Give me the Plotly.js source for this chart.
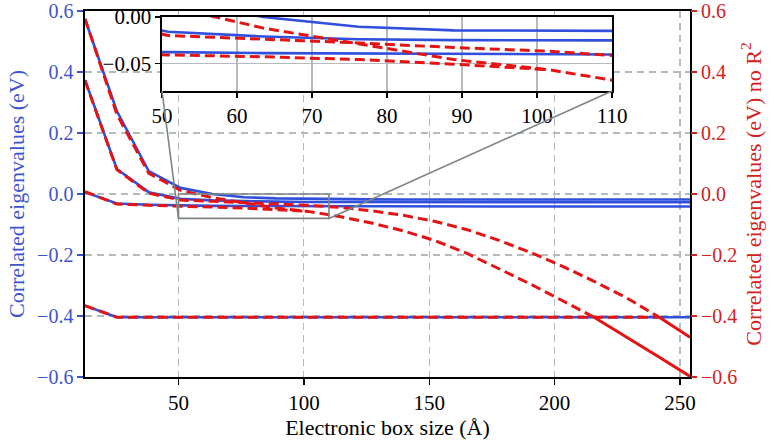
<!DOCTYPE html>
<html><head><meta charset="utf-8">
<script src="https://cdn.plot.ly/plotly-3.0.1.min.js"></script>
<style>html,body{margin:0;padding:0;background:#fff}#chart{width:776px;height:441px}</style>
</head><body><div id="chart"></div>
<script>
// Electronic box size (Å)
const boxSize = [12.7, 25.4, 38.1, 50.8, 63.5, 76.2, 88.9, 101.6, 114.3, 127.0, 139.7, 152.4, 165.1, 177.8, 190.5, 203.2, 215.9, 228.6, 241.3, 254.0];

// Correlated eigenvalues (eV) – blue, left axis
const corr1 = [0.574, 0.272, 0.075, 0.020, 0.000, -0.0105, -0.0145, -0.016, -0.017, -0.0175, -0.018, -0.018, -0.018, -0.018, -0.018, -0.018, -0.018, -0.018, -0.018, -0.018];
const corr2 = [0.374, 0.082, 0.006, -0.016, -0.021, -0.024, -0.025, -0.026, -0.026, -0.027, -0.027, -0.027, -0.027, -0.027, -0.027, -0.027, -0.027, -0.027, -0.027, -0.027];
const corr3 = [0.006, -0.031, -0.035, -0.038, -0.039, -0.0395, -0.040, -0.040, -0.0405, -0.041, -0.041, -0.041, -0.041, -0.041, -0.041, -0.041, -0.041, -0.041, -0.041, -0.041];
const corr4 = [-0.366, -0.404, -0.404, -0.404, -0.404, -0.404, -0.404, -0.404, -0.404, -0.404, -0.404, -0.404, -0.404, -0.404, -0.404, -0.404, -0.404, -0.404, -0.404, -0.404];

// Correlated eigenvalues (eV) no R² – red, right axis (dashed parts)
const noR2A = [0.575, 0.262, 0.068, 0.012, -0.012, -0.029, -0.046, -0.057, -0.074, -0.095, -0.121, -0.153, -0.195, -0.245, -0.296, -0.350, -0.405];
const noR2B = [0.372, 0.080, 0.003, -0.020, -0.024, -0.028, -0.033, -0.037, -0.044, -0.055, -0.070, -0.090, -0.117, -0.152, -0.192, -0.237, -0.287, -0.340, -0.402];
const noR2C = [0.008, -0.033, -0.037, -0.041, -0.043, -0.046, -0.051, -0.057];
const noR2D = [-0.366, -0.404, -0.404, -0.404, -0.404, -0.404, -0.404, -0.404, -0.404, -0.404, -0.404, -0.404, -0.404, -0.404, -0.404, -0.404, -0.404, -0.404, -0.404];
// overlapping (solid-looking) tails
const tailAx = [215.9, 228.6, 241.3, 254.0];
const tailA = [-0.405, -0.468, -0.533, -0.598];
const tailBx = [241.3, 254.0];
const tailB = [-0.402, -0.470];

const mainTicksY = [-0.6, -0.4, -0.2, 0.0, 0.2, 0.4, 0.6];
const mainTicksX = [50, 100, 150, 200, 250];
const insetTicksX = [50, 60, 70, 80, 90, 100, 110];
const insetTicksY = [-0.05, 0.00];
const zoomX = [50, 110];
const zoomY = [-0.08, 0.0];

const BLUE = '#2f4fdc', BLUE_T = '#3d54cc', RED = '#e41414', RED_T = '#d62020';
const FONT = '"Liberation Serif", "DejaVu Serif", serif';
const GRID = '#b3bbbf';
const TS = 20;

const traces = [];
function addBlue(y, xa, ya) {
  traces.push({x: boxSize.slice(0, y.length), y: y, xaxis: xa, yaxis: ya, mode: 'lines',
    line: {color: BLUE, width: 2.6}, hoverinfo: 'skip', showlegend: false});
}
function addRed(xv, y, xa, ya, dash) {
  traces.push({x: xv, y: y, xaxis: xa, yaxis: ya, mode: 'lines',
    line: {color: RED, width: 3, dash: dash}, hoverinfo: 'skip', showlegend: false});
}
function addAll(xa, yaBlue, yaRed) {
  [corr1, corr2, corr3, corr4].forEach(s => addBlue(s, xa, yaBlue));
  [noR2A, noR2B, noR2C, noR2D].forEach(s => addRed(boxSize.slice(0, s.length), s, xa, yaRed, '10px,5px'));
  addRed(tailAx, tailA, xa, yaRed, 'solid');
  addRed(tailBx, tailB, xa, yaRed, 'solid');
}
addAll('x', 'y', 'y2');
addAll('x3', 'y3', 'y3');

const L = 85, R = 86, T = 11, B = 64, W = 776, H = 441;
const xDom = [0, 1], yDom = [0, 1];
const xRange = [12.7, 254.0], yRange = [-0.6, 0.6];
const insetXDom = [0.1273, 0.8711], insetYDom = [0.7814, 0.9836];

function px(v) { return xDom[0] + (v - xRange[0]) / (xRange[1] - xRange[0]) * (xDom[1] - xDom[0]); }
function py(v) { return yDom[0] + (v - yRange[0]) / (yRange[1] - yRange[0]) * (yDom[1] - yDom[0]); }

const gray = '#7f8585';
const shapes = [
  {type: 'rect', xref: 'x3 domain', yref: 'y3 domain', x0: 0, x1: 1, y0: 0, y1: 1,
   fillcolor: '#ffffff', line: {width: 0}, layer: 'below'},
  {type: 'rect', xref: 'x', yref: 'y', x0: zoomX[0], x1: zoomX[1], y0: zoomY[0], y1: zoomY[1],
   line: {color: gray, width: 1.6}, layer: 'above'},
  {type: 'line', xref: 'paper', yref: 'paper', x0: px(zoomX[0]), y0: py(zoomY[0]), x1: insetXDom[0], y1: insetYDom[0],
   line: {color: gray, width: 1.6}, layer: 'above'},
  {type: 'line', xref: 'paper', yref: 'paper', x0: px(zoomX[1]), y0: py(zoomY[0]), x1: insetXDom[1], y1: insetYDom[0],
   line: {color: gray, width: 1.6}, layer: 'above'}
];

const layout = {
  width: W, height: H,
  margin: {l: L, r: R, t: T, b: B},
  paper_bgcolor: '#fff', plot_bgcolor: '#fff',
  font: {family: FONT, size: 21, color: '#000'},
  showlegend: false,
  xaxis: {domain: xDom, range: xRange, tickvals: mainTicksX, ticks: 'outside', ticklen: 6, tickwidth: 1.3,
    tickcolor: '#000', showline: true, linecolor: '#000', linewidth: 1.6, mirror: true,
    showgrid: true, gridcolor: GRID, gridwidth: 1.2, griddash: '7px,5px', zeroline: false,
    ticklabeloverflow: 'allow',
    tickfont: {family: FONT, size: TS + 1, color: '#000'},
    title: {text: 'Electronic box size (Å)', font: {family: FONT, size: 22, color: '#000'}, standoff: 3}},
  yaxis: {domain: yDom, range: yRange, tickvals: mainTicksY, tickformat: '.1f', ticks: 'outside', ticklen: 6,
    tickwidth: 1.3, tickcolor: BLUE_T, showline: true, linecolor: '#000', linewidth: 1.6, mirror: true,
    showgrid: true, gridcolor: GRID, gridwidth: 1.2, griddash: '7px,5px', zeroline: false,
    ticklabeloverflow: 'allow',
    tickfont: {family: FONT, size: TS, color: BLUE_T},
    title: {text: 'Correlated eigenvalues (eV)', font: {family: FONT, size: 22, color: BLUE_T}, standoff: 6}},
  yaxis2: {overlaying: 'y', side: 'right', range: yRange, tickvals: mainTicksY, tickformat: '.1f', ticks: 'outside',
    ticklen: 6, tickwidth: 1.3, tickcolor: RED_T, showline: false, showgrid: false, zeroline: false,
    ticklabeloverflow: 'allow',
    tickfont: {family: FONT, size: TS, color: RED_T},
    title: {text: 'Correlated eigenvalues (eV) no R<sup>2</sup>', font: {family: FONT, size: 22, color: RED_T}, standoff: 8}},
  xaxis3: {domain: insetXDom, anchor: 'y3', range: [50, 110], tickvals: insetTicksX, ticks: 'outside', ticklen: 5,
    tickwidth: 1.3, tickcolor: '#000', showline: true, linecolor: '#000', linewidth: 1.6, mirror: true,
    showgrid: true, gridcolor: GRID, gridwidth: 1.2, zeroline: false, ticklabeloverflow: 'allow',
    tickfont: {family: FONT, size: TS + 1, color: '#000'}},
  yaxis3: {domain: insetYDom, anchor: 'x3', range: [-0.08, 0.0], tickvals: insetTicksY, tickformat: '.2f',
    ticks: 'outside', ticklen: 5, tickwidth: 1.3, tickcolor: '#000', showline: true, linecolor: '#000',
    linewidth: 1.6, mirror: true, showgrid: true, gridcolor: GRID, gridwidth: 1.2, zeroline: false,
    ticklabeloverflow: 'allow',
    tickfont: {family: FONT, size: TS + 1, color: '#000'}},
  shapes: shapes
};

Plotly.newPlot('chart', traces, layout, {staticPlot: true, displayModeBar: false});
</script>
</body></html>
